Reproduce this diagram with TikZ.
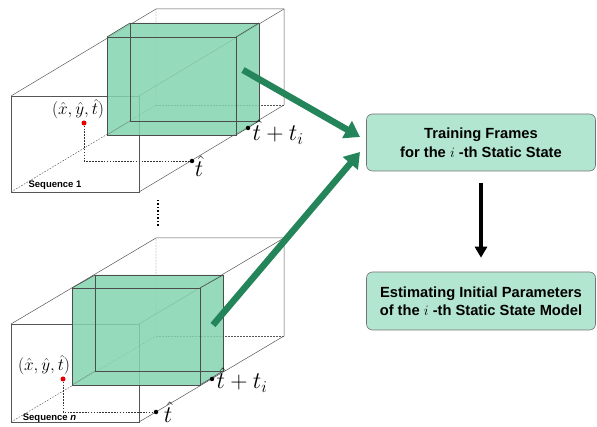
\documentclass[tikz,border=0pt]{standalone}
\usepackage{amsmath}
\usepackage{fontspec}
\setmainfont{Liberation Sans}
\usetikzlibrary{arrows.meta}

\definecolor{cubegreen}{RGB}{132,212,176}
\definecolor{boxgreen}{RGB}{179,230,209}
\definecolor{arrowgreen}{RGB}{36,133,90}
\definecolor{edgegray}{RGB}{85,85,85}

\begin{document}
\begin{tikzpicture}[x=1pt,y=-1pt,
        edge/.style={draw=edgegray, line width=0.5pt},
        hidden/.style={draw=edgegray, line width=0.45pt, dash pattern=on 1.6pt off 1.4pt},
        slab/.style={fill=cubegreen, fill opacity=0.85},
        slabedge/.style={draw=black!70, line width=0.6pt},
        guide/.style={draw=black!80, line width=0.45pt, dash pattern=on 1.6pt off 1.3pt},
        pt/.style={circle, fill=black, inner sep=0pt, minimum size=4.5pt},
        ptred/.style={circle, fill=red!90!black, inner sep=0pt, minimum size=5pt},
        bigmath/.style={font=\huge, scale=1.15, inner sep=0pt},
        posmath/.style={font=\LARGE, inner sep=0pt},
        seqlabel/.style={font=\fontsize{9.5}{11}\selectfont\bfseries, inner sep=0pt},
        stage/.style={draw=black!55, fill=boxgreen, rounded corners=6pt, line width=0.6pt,
            minimum width=229pt, minimum height=57pt, align=center,
            font=\fontsize{14.7}{18.5}\selectfont\bfseries},
        feed/.style={draw=arrowgreen, line width=6.5pt, -{Triangle[length=15pt,width=19pt]}},
        down/.style={draw=black, line width=4pt, -{Triangle[length=11pt,width=12pt]}}]

        \useasboundingbox (0,0) rectangle (597,427);

        % sequence 1
        \coordinate (a1) at (11,96);
        \coordinate (b1) at (139,96);
        \coordinate (c1) at (139,192);
        \coordinate (d1) at (11,192);
        \coordinate (e1) at (156,9);
        \coordinate (f1) at (284,9);
        \coordinate (g1) at (284,105);
        \coordinate (h1) at (156,105);

        \draw[hidden] (d1) -- (h1) -- (e1);
        \draw[hidden] (h1) -- (g1);
        \draw[edge] (a1) -- (b1) -- (c1) -- (d1) -- cycle;
        \draw[edge] (a1) -- (e1) -- (f1) -- (g1) -- (c1);
        \draw[edge] (b1) -- (f1);

        \coordinate (p1) at (107,37);
        \coordinate (q1) at (236,37);
        \coordinate (r1) at (236,135);
        \coordinate (s1) at (107,135);
        \coordinate (u1) at (130,23);
        \coordinate (v1) at (259,23);
        \coordinate (w1) at (259,121);
        \coordinate (z1) at (130,121);

        \fill[slab] (s1) -- (p1) -- (u1) -- (v1) -- (w1) -- (r1) -- cycle;
        \draw[slabedge] (u1) -- (v1) -- (w1) -- (z1) -- cycle;
        \draw[slabedge] (p1) -- (q1) -- (r1) -- (s1) -- cycle;
        \draw[slabedge] (p1) -- (u1);
        \draw[slabedge] (q1) -- (v1);
        \draw[slabedge] (r1) -- (w1);
        \draw[slabedge, draw opacity=0.4] (s1) -- (z1);

        \node[ptred] (x1) at (84,123) {};
        \node[pt] (t1) at (192,161) {};
        \node[pt] (ti1) at (248,128) {};
        \coordinate (k1) at (84,161);
        \draw[guide] (x1) -- (k1) -- (t1);

        \node[posmath] (xl1) at (78,109) {$(\hat{x},\hat{y},\hat{t})$};
        \node[bigmath] (tl1) at (199,166) {$\hat{t}$};
        \node[bigmath] (til1) at (278,132) {$\hat{t}+t_i$};
        \node[seqlabel] (seq1) at (55,185) {Sequence 1};

        % dots between the sequences
        \draw[black, line width=1.3pt, dash pattern=on 1.3pt off 2.2pt] (158,200) -- (158,227);

        % sequence n
        \coordinate (an) at (11,324);
        \coordinate (bn) at (139,324);
        \coordinate (cn) at (139,422);
        \coordinate (dn) at (11,422);
        \coordinate (en) at (156,238);
        \coordinate (fn) at (284,238);
        \coordinate (gn) at (284,336);
        \coordinate (hn) at (156,336);

        \draw[hidden] (dn) -- (hn) -- (en);
        \draw[hidden] (hn) -- (gn);
        \draw[edge] (an) -- (bn) -- (cn) -- (dn) -- cycle;
        \draw[edge] (an) -- (en) -- (fn) -- (gn) -- (cn);
        \draw[edge] (bn) -- (fn);

        \coordinate (pn) at (72,288);
        \coordinate (qn) at (200,288);
        \coordinate (rn) at (200,385);
        \coordinate (sn) at (72,385);
        \coordinate (un) at (95,275);
        \coordinate (vn) at (223,275);
        \coordinate (wn) at (223,371);
        \coordinate (zn) at (95,371);

        \fill[slab] (sn) -- (pn) -- (un) -- (vn) -- (wn) -- (rn) -- cycle;
        \draw[slabedge] (un) -- (vn) -- (wn) -- (zn) -- cycle;
        \draw[slabedge] (pn) -- (qn) -- (rn) -- (sn) -- cycle;
        \draw[slabedge] (pn) -- (un);
        \draw[slabedge] (qn) -- (vn);
        \draw[slabedge] (rn) -- (wn);
        \draw[slabedge, draw opacity=0.4] (sn) -- (zn);

        \node[ptred] (xn) at (63,379) {};
        \node[pt] (tn) at (156,412) {};
        \node[pt] (tin) at (212,379) {};
        \coordinate (kn) at (63,412);
        \draw[guide] (xn) -- (kn) -- (tn);

        \node[posmath] (xln) at (44,365) {$(\hat{x},\hat{y},\hat{t})$};
        \node[bigmath] (tln) at (168,412) {$\hat{t}$};
        \node[bigmath] (tiln) at (242,380) {$\hat{t}+t_i$};
        \node[seqlabel] (seqn) at (49.5,418) {Sequence \textit{n}};

        % flow on the right
        \node[stage] (frames) at (481,142.5) {Training Frames\\for the $i$ -th Static State};
        \node[stage, minimum height=58pt] (estim) at (481,301) {Estimating Initial Parameters\\of the $i$ -th Static State Model};

        \coordinate (from1) at (243,70);
        \coordinate (to1) at (360,137);
        \coordinate (fromn) at (213,325);
        \coordinate (ton) at (360,152);

        \draw[feed] (from1) -- (to1);
        \draw[feed] (fromn) -- (ton);
        \draw[down, shorten <=12pt, shorten >=14pt] (frames) -- (estim);
\end{tikzpicture}
\end{document}
